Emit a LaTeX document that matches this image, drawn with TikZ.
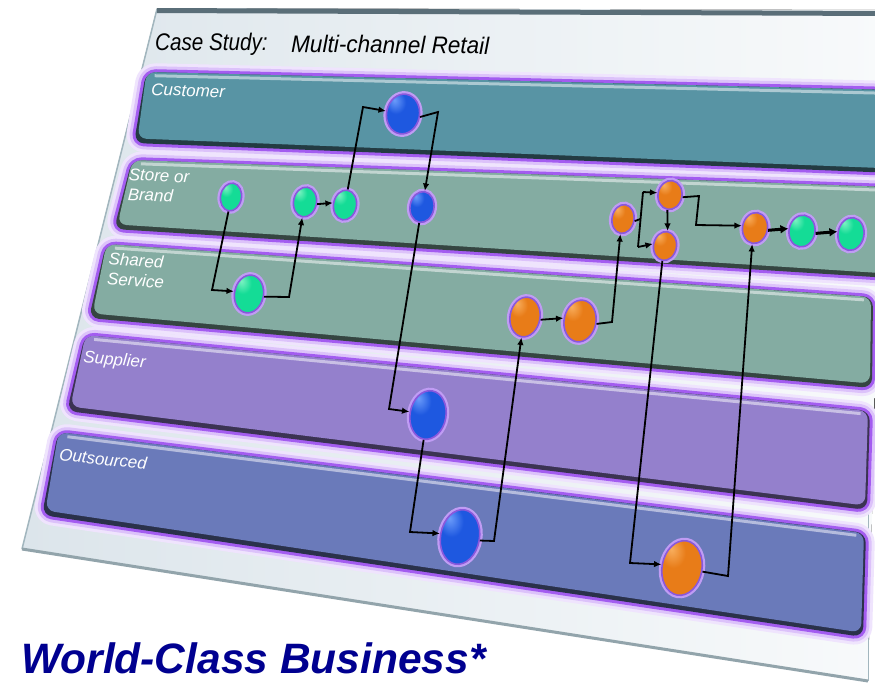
\documentclass[tikz,border=0pt]{standalone}
\usepackage{fontspec}
\setmainfont{Liberation Sans}
\usetikzlibrary{shapes.geometric,arrows.meta,calc}
\definecolor{panelL}{HTML}{DCE5EB}
\definecolor{panelR}{HTML}{F8FAFB}
\definecolor{panelTop}{HTML}{5A6E78}
\definecolor{panelEdge}{HTML}{A2B6BE}
\definecolor{glowA}{HTML}{DCC2FA}
\definecolor{glowB}{HTML}{A35CF0}
\definecolor{custC}{HTML}{5894A4}
\definecolor{storeC}{HTML}{84ACA2}
\definecolor{suppC}{HTML}{9480CC}
\definecolor{outC}{HTML}{6A7ABA}
\definecolor{navyT}{HTML}{000090}
\definecolor{haloA}{HTML}{C09CF4}
\definecolor{haloB}{HTML}{8A58DC}
\definecolor{grM}{HTML}{14DC96}
\definecolor{grL}{HTML}{7CF2C2}
\definecolor{grD}{HTML}{0A9868}
\definecolor{blM}{HTML}{1E58E0}
\definecolor{blL}{HTML}{6C9CFA}
\definecolor{blD}{HTML}{1034A0}
\definecolor{orM}{HTML}{E87C18}
\definecolor{orL}{HTML}{F8AE5E}
\definecolor{orD}{HTML}{A85406}
\pgfdeclareradialshading{ballgr}{\pgfpoint{-12bp}{16bp}}{color(0bp)=(grL); color(14bp)=(grM); color(40bp)=(grM); color(58bp)=(grD); color(80bp)=(grD)}
\pgfdeclareradialshading{ballbl}{\pgfpoint{-12bp}{16bp}}{color(0bp)=(blL); color(14bp)=(blM); color(40bp)=(blM); color(58bp)=(blD); color(80bp)=(blD)}
\pgfdeclareradialshading{ballor}{\pgfpoint{-12bp}{16bp}}{color(0bp)=(orL); color(14bp)=(orM); color(40bp)=(orM); color(58bp)=(orD); color(80bp)=(orD)}
\newcommand\lanebox[9]{%
  \coordinate (LTL) at (#1,#2); \coordinate (LTR) at (#3,#4);
  \coordinate (LBR) at (#5,#6); \coordinate (LBL) at (#7,#8);
  \draw[line width=18pt, draw=glowA!45!white, rounded corners=10pt, line join=round] (LTL)--(LTR)--(LBR)--(LBL)--cycle;
  \draw[line width=12pt, draw=glowA, rounded corners=10pt, line join=round] (LTL)--(LTR)--(LBR)--(LBL)--cycle;
  \draw[line width=6pt, draw=glowB, rounded corners=10pt, line join=round] (LTL)--(LTR)--(LBR)--(LBL)--cycle;
  \fill[#9!40!black, rounded corners=10pt] (LTL)--(LTR)--(LBR)--(LBL)--cycle;
  \fill[#9, rounded corners=9pt] ($(LTL)+(0.5,0)$)--($(LTR)+(-2,0)$)--($(LBR)+(-2,-4.5)$)--($(LBL)+(3.5,-4.5)$)--cycle;
  \draw[#9!50!white, line width=3pt] ($(LTL)!0.012!(LTR)+(-0.3,3.5)$)--($(LTL)!0.988!(LTR)+(0,3.5)$);
}
\tikzset{
  nd/.style={ellipse, inner sep=0pt, draw=haloB, line width=1.6pt, preaction={draw=haloA, line width=6pt}, rotate=-10},
  gn/.style={nd, shading=ballgr},
  bn/.style={nd, shading=ballbl},
  on/.style={nd, shading=ballor},
  conn/.style={line width=1.8pt, -{Latex[length=7.5pt,width=6.5pt]}},
  plain/.style={line width=1.8pt},
  fat/.style={line width=3pt, -{Latex[length=8pt,width=9pt]}},
  lanelbl/.style={text=white, font=\fontsize{17}{20}\selectfont\itshape, inner sep=0pt, align=left},
}
\begin{document}
\begin{tikzpicture}[x=1pt, y=-1pt]
\useasboundingbox (0,0) rectangle (875,686);
\clip (0,0) rectangle (875,686);
\fill[white] (0,0) rectangle (875,686);
% panel
\fill[left color=panelL, right color=panelR] (157,8) -- (884,10) -- (868,681) -- (22,549) -- cycle;
\draw[panelEdge, line width=1.5pt] (157,9) -- (22,549);
\draw[panelEdge!90!black, line width=3pt] (22,549) -- (868,681);
\draw[panelEdge, line width=1pt] (868,500) -- (868,681);
\draw[panelTop, line width=5pt] (157,10.5) -- (884,13.5);
% lanes
\lanebox{146}{72}{895}{90}{895}{173}{134}{143}{custC}
\lanebox{132}{160}{890}{187}{890}{278}{114}{229}{storeC}
\lanebox{106}{244}{873}{297}{872}{388}{89}{318}{storeC}
\lanebox{85}{335}{870}{411}{867}{510}{67}{411}{suppC}
\lanebox{58}{432}{866}{533}{863}{637}{42}{515}{outC}
% title
\node[anchor=base west, font=\fontsize{24}{28}\selectfont\itshape, xscale=0.86, inner sep=0pt] (t1) at (155,50) {Case Study:};
\node[anchor=base west, font=\fontsize{24}{28}\selectfont\itshape, xscale=0.94, inner sep=0pt, rotate=-0.6] (t2) at (291,52) {Multi-channel Retail};
% lane labels
\node[lanelbl, anchor=base west, rotate=-2] (lc) at (151,95) {Customer};
\node[lanelbl, anchor=north west, rotate=-3] (ls) at (129,168) {Store or\\Brand};
\node[lanelbl, anchor=north west, rotate=-4] (lsh) at (109,252) {Shared\\Service};
\node[lanelbl, anchor=north west, rotate=-5] (lsu) at (84,350) {Supplier};
\node[lanelbl, anchor=north west, rotate=-6] (lo) at (60,448) {Outsourced};
% bottom title
\node[anchor=base west, text=navyT, font=\fontsize{42.5}{46}\selectfont\bfseries\itshape, inner sep=0pt] (wcb) at (21,673) {World-Class Business*};
% nodes
\node[bn, minimum width=33, minimum height=40] (b1) at (403,114) {};
\node[gn, minimum width=21, minimum height=28] (sg1) at (231,197) {};
\node[gn, minimum width=23, minimum height=30] (sg2) at (305,202) {};
\node[gn, minimum width=23, minimum height=30] (sg3) at (345,205) {};
\node[bn, minimum width=24, minimum height=31] (b2) at (422,207) {};
\node[on, minimum width=22, minimum height=29] (o1) at (623,219) {};
\node[on, minimum width=24, minimum height=29] (o2) at (670,195) {};
\node[on, minimum width=23, minimum height=29] (o3) at (665,246) {};
\node[on, minimum width=25, minimum height=31] (o4) at (755,228) {};
\node[gn, minimum width=26, minimum height=32] (g4) at (802,231) {};
\node[gn, minimum width=26, minimum height=33] (g5) at (851,234) {};
\node[gn, minimum width=29, minimum height=38] (shg) at (249,294) {};
\node[on, minimum width=30, minimum height=40] (o5) at (525,317) {};
\node[on, minimum width=32, minimum height=42] (o6) at (580,321) {};
\node[bn, minimum width=36, minimum height=49] (b3) at (428,415) {};
\node[bn, minimum width=39, minimum height=55] (b4) at (460,537) {};
\node[on, minimum width=40, minimum height=55] (o7) at (682,568) {};
% corner coordinates
\coordinate (c1) at (212,290);
\coordinate (c2) at (289,297);
\coordinate (c3) at (363,107);
\coordinate (c4) at (438,112);
\coordinate (c5) at (389,409);
\coordinate (c6) at (410,532);
\coordinate (c7) at (494,541);
\coordinate (c8) at (612,322);
\coordinate (c9) at (640.5,219);
\coordinate (c10) at (643,192);
\coordinate (c11) at (638,247);
\coordinate (c12) at (699,196);
\coordinate (c13) at (696,225);
\coordinate (c14) at (630,563);
\coordinate (c15) at (728,576);
% connectors
\draw[conn] (sg1.south) -- (c1) -- (shg.west);
\draw[conn] (shg.east) -- (c2) -- (sg2.south);
\draw[conn] (sg2.east) -- (sg3.west);
\draw[conn] (sg3.north) -- (c3) -- (b1.west);
\draw[conn] (b1.east) -- (c4) -- (b2.north);
\draw[conn] (b2.south) -- (c5) -- (b3.west);
\draw[conn] (b3.south) -- (c6) -- (b4.west);
\draw[conn] (b4.east) -- (c7) -- (o5.south);
\draw[conn] (o5.east) -- (o6.west);
\draw[conn] (o6.east) -- (c8) -- (o1.south);
\draw[plain] (o1.east) -- (c9);
\draw[plain] (c10) -- (c11);
\draw[conn] (c10) -- (o2.west);
\draw[conn] (c11) -- (o3.west);
\draw[conn] (o2.south) -- (o3.north);
\draw[conn] (o2.east) -- (c12) -- (c13) -- (o4.west);
\draw[conn] (o3.south) -- (c14) -- (o7.west);
\draw[conn] (o7.east) -- (c15) -- (o4.south);
\draw[fat] (o4.east) -- (g4.west);
\draw[fat] (g4.east) -- (g5.west);
\end{tikzpicture}
\end{document}
